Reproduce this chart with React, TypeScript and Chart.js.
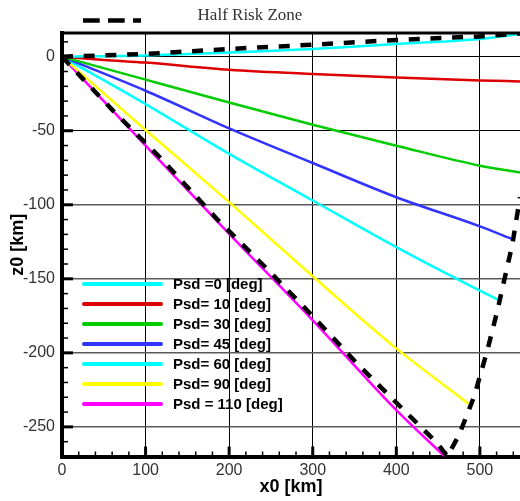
import React, { useEffect, useRef } from "react";
import { Chart, registerables } from "chart.js";

Chart.register(...registerables);

const TITLE = "Half Risk Zone";
const X_TITLE = "x0 [km]";
const Z_TITLE = "z0 [km]";

const SERIES_LABELS = [
  "Psd =0 [deg]",
  "Psd= 10 [deg]",
  "Psd= 30 [deg]",
  "Psd= 45 [deg]",
  "Psd= 60 [deg]",
  "Psd= 90 [deg]",
  "Psd = 110 [deg]",
];
const SERIES_COLORS = ["#00ffff", "#dd0000", "#00cc00", "#3333ff", "#00ffff", "#ffff00", "#ff00ff"];

const X_PSD0 = [0, 100, 200, 300, 400, 500, 548];
const Z_PSD0 = [0, 0.8, 2.8, 5.2, 8.6, 12, 15.3];
const X_PSD10 = [0, 50, 100, 200, 300, 400, 500, 548];
const Z_PSD10 = [0, -2.2, -4, -8.8, -11.7, -14, -16, -16.7];
const X_PSD30 = [0, 100, 200, 300, 400, 500, 548];
const Z_PSD30 = [0, -15.5, -30.9, -46, -60.1, -73.6, -78.2];
const X_PSD45 = [0, 100, 200, 300, 400, 500, 540];
const Z_PSD45 = [0, -23, -48.4, -71.8, -94.9, -114.6, -123.5];
const X_PSD60 = [0, 100, 200, 300, 400, 500, 525];
const Z_PSD60 = [0, -32, -65.6, -97.1, -128.6, -158, -165];
const X_PSD90 = [0, 100, 200, 300, 400, 488];
const Z_PSD90 = [0, -49.5, -98.2, -148.3, -197, -235];
const X_PSD110 = [0, 100, 200, 300, 400, 458];
const Z_PSD110 = [0, -60, -119.6, -178, -238.7, -270];

const X_ZONE_UPPER = [0, 100, 200, 300, 400, 500, 548];
const Z_ZONE_UPPER = [0, 1.8, 5.2, 8.1, 11.3, 13.7, 15.7];
const X_ZONE_LOWER = [0, 25, 61, 97, 117, 187, 245, 299, 353, 391, 449, 461, 475, 493, 509, 521, 539, 548, 556];
const Z_ZONE_LOWER = [0, -15, -36.4, -56.6, -67.9, -110.6, -143.2, -174.6, -207.2, -228.6, -261, -270, -255.6, -229.7, -198.2, -171.3, -126.3, -94.9, -55];

const X_TICKS = [0, 100, 200, 300, 400, 500];
const Z_TICKS = [0, -50, -100, -150, -200, -250];
const X_MIN = 0;
const X_MAX = 548;
const Z_MIN = -270;
const Z_MAX = 16;

const SERIES_X = [X_PSD0, X_PSD10, X_PSD30, X_PSD45, X_PSD60, X_PSD90, X_PSD110];
const SERIES_Z = [Z_PSD0, Z_PSD10, Z_PSD30, Z_PSD45, Z_PSD60, Z_PSD90, Z_PSD110];

const pts = (xs: number[], zs: number[]) => xs.map((x, i) => ({ x, y: zs[i] }));

const decorPlugin = {
  id: "decor",
  afterDatasetsDraw(chart: any) {
    const { ctx, chartArea, scales } = chart;
    const { left, top, right, bottom } = chartArea;
    const x = scales.x;
    const y = scales.y;
    ctx.save();
    ctx.strokeStyle = "#000";
    ctx.setLineDash([]);
    // inward ticks on x axis
    for (let v = 20; v <= X_MAX; v += 20) {
      const px = x.getPixelForValue(v);
      const major = v % 100 === 0;
      ctx.lineWidth = major ? 3 : 1.5;
      ctx.beginPath();
      ctx.moveTo(px, bottom);
      ctx.lineTo(px, bottom - (major ? 10 : 5));
      ctx.stroke();
    }
    // inward ticks on z axis
    for (let v = 10; v >= Z_MIN; v -= 10) {
      const py = y.getPixelForValue(v);
      const major = v % 50 === 0;
      ctx.lineWidth = major ? 3 : 1.5;
      ctx.beginPath();
      ctx.moveTo(left, py);
      ctx.lineTo(left + (major ? 11 : 6), py);
      ctx.stroke();
    }
    // top border
    ctx.lineWidth = 3;
    ctx.beginPath();
    ctx.moveTo(left - 2, top);
    ctx.lineTo(right, top);
    ctx.stroke();

    // legend inside plot
    const lx0 = 84;
    const lx1 = 161;
    const ly0 = 284;
    const step = 20;
    ctx.font = 'bold 15px "Liberation Sans", Arial, sans-serif';
    ctx.textAlign = "left";
    ctx.textBaseline = "middle";
    SERIES_LABELS.forEach((lab, i) => {
      const yy = ly0 + i * step;
      ctx.strokeStyle = SERIES_COLORS[i];
      ctx.lineWidth = 4;
      ctx.lineCap = "round";
      ctx.beginPath();
      ctx.moveTo(lx0, yy);
      ctx.lineTo(lx1, yy);
      ctx.stroke();
      ctx.fillStyle = "#000";
      ctx.fillText(lab, 173, yy + 1);
    });

    // title + dashed key
    ctx.lineCap = "butt";
    ctx.strokeStyle = "#000";
    ctx.lineWidth = 4.5;
    ctx.setLineDash([16.7, 8.3]);
    ctx.beginPath();
    ctx.moveTo(83, 20.5);
    ctx.lineTo(141, 20.5);
    ctx.stroke();
    ctx.setLineDash([]);
    ctx.font = '17px "Liberation Serif", "Times New Roman", serif';
    ctx.fillStyle = "#333";
    ctx.textAlign = "center";
    ctx.textBaseline = "alphabetic";
    ctx.fillText(TITLE, 250, 20);
    ctx.restore();
  },
};

export default function App() {
  const ref = useRef<HTMLCanvasElement | null>(null);
  useEffect(() => {
    document.body.style.margin = "0";
    const canvas = ref.current;
    if (!canvas) return;
    const colored = SERIES_LABELS.map((label, i) => ({
      label,
      data: pts(SERIES_X[i], SERIES_Z[i]),
      borderColor: SERIES_COLORS[i],
      borderWidth: 2.5,
      pointRadius: 0,
      cubicInterpolationMode: "monotone" as const,
      fill: false,
    }));
    const dashed = [
      {
        label: TITLE,
        data: pts(X_ZONE_UPPER, Z_ZONE_UPPER),
        borderColor: "#000",
        borderWidth: 4.5,
        borderDash: [11, 10.7],
        pointRadius: 0,
        tension: 0,
        fill: false,
      },
      {
        label: TITLE + " ",
        data: pts(X_ZONE_LOWER, Z_ZONE_LOWER),
        borderColor: "#000",
        borderWidth: 4.5,
        borderDash: [11, 10.7],
        pointRadius: 0,
        tension: 0,
        fill: false,
      },
    ];
    const tickFont = { family: '"Liberation Sans", Arial, sans-serif', size: 16 };
    const titleFont = { family: '"Liberation Sans", Arial, sans-serif', size: 18, weight: "bold" as const };
    const chart = new Chart(canvas, {
      type: "line",
      data: { datasets: [...dashed, ...colored] as any },
      options: {
        animation: false,
        responsive: false,
        maintainAspectRatio: false,
        parsing: true,
        layout: { padding: { top: 33, right: 0, bottom: 0, left: 0 } },
        plugins: { legend: { display: false }, tooltip: { enabled: false }, title: { display: false } },
        scales: {
          x: {
            type: "linear",
            min: X_MIN,
            max: X_MAX,
            afterBuildTicks: (s: any) => {
              s.ticks = X_TICKS.map((v) => ({ value: v }));
            },
            afterFit: (s: any) => {
              s.height = 44.5;
            },
            ticks: { color: "#333", font: tickFont, padding: 4, maxRotation: 0, autoSkip: false },
            grid: {
              color: "#000",
              lineWidth: 1,
              drawTicks: false,
            },
            border: { display: true, color: "#000", width: 4 },
            title: { display: true, text: X_TITLE, color: "#000", font: titleFont, padding: { top: 0, bottom: 3 } },
          },
          y: {
            type: "linear",
            min: Z_MIN,
            max: Z_MAX,
            afterBuildTicks: (s: any) => {
              s.ticks = Z_TICKS.map((v) => ({ value: v }));
            },
            afterFit: (s: any) => {
              s.width = 62;
            },
            ticks: { color: "#333", font: tickFont, padding: 7, autoSkip: false },
            grid: {
              color: (c: any) => (c.tick && (c.tick.value === 0 || c.tick.value === -50) ? "#000" : "#5a5a5a"),
              lineWidth: (c: any) => (c.tick && (c.tick.value === 0 || c.tick.value === -50) ? 1 : 1.5),
              drawTicks: false,
            },
            border: { display: true, color: "#000", width: 4 },
            title: { display: true, text: Z_TITLE, color: "#000", font: titleFont, padding: { top: 7, bottom: 0 } },
          },
        },
      },
      plugins: [decorPlugin],
    });
    return () => chart.destroy();
  }, []);
  return (
    <div style={{ width: 520, height: 501, background: "#fff" }}>
      <canvas ref={ref} width={520} height={501} style={{ display: "block" }} />
    </div>
  );
}
